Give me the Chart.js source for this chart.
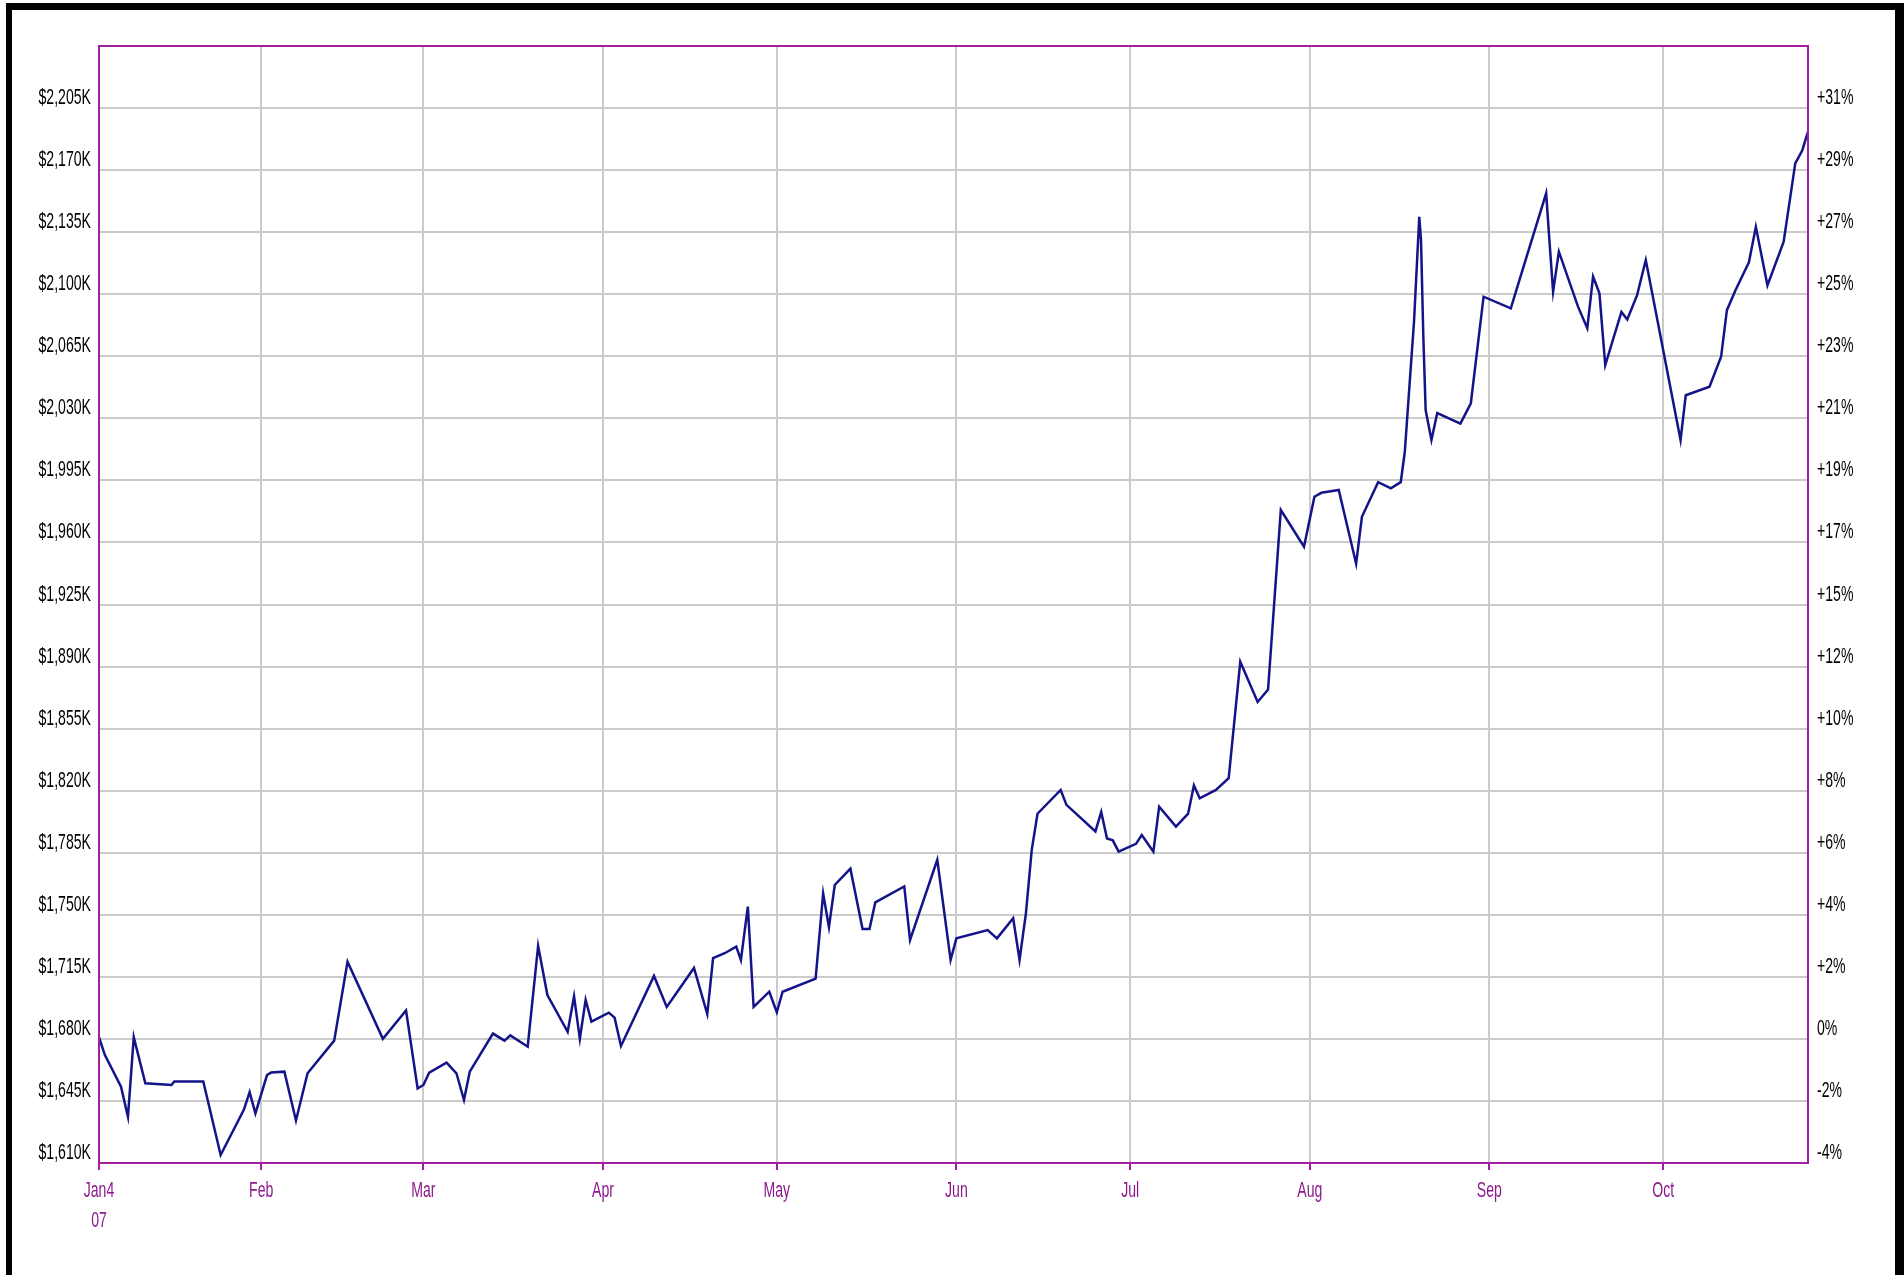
<!DOCTYPE html>
<html>
<head>
<meta charset="utf-8">
<title>Account value 2007</title>
<script src="https://cdn.jsdelivr.net/npm/chart.js@4.4.1/dist/chart.umd.min.js"></script>
<style>
  html, body { margin: 0; padding: 0; background: #fff; }
  #wrap { position: relative; width: 1904px; height: 1275px; }
</style>
</head>
<body>
<div id="wrap"><canvas id="chart"></canvas></div>
<script>
// x = calendar days after Jan 4 2007, y = account value in $K
const days = [
  0, 1, 3.8, 5, 6, 8, 12.5, 13, 18, 21, 25, 26, 27, 29, 29.7, 32, 34, 36, 40.6, 42.9,
  49, 53, 55, 56, 57, 60, 61.7, 63, 64, 68, 70, 71, 74, 75.8, 77.4, 80.9, 82, 83, 84, 85,
  88, 89, 90.1, 95.8, 98, 102.7, 105, 106, 108, 110, 110.8, 112, 113, 115.7, 117, 118, 123.7, 125, 126, 127,
  129.7, 131.8, 133, 134, 139, 140, 144.7, 147, 148, 153.4, 155, 157.8, 158.9, 160, 161, 162, 166, 167, 172, 173,
  174, 175, 176, 179, 180, 182, 183, 185.9, 188, 189, 190, 192.8, 195, 197, 200, 201.8, 204, 208, 209.8, 211,
  214, 217, 218, 220.8, 223, 224.7, 225.4, 227, 227.9, 228.2, 228.6, 229, 230, 231, 235, 236.8, 239, 243.7, 245, 249.8,
  250.4, 251, 252, 255.3, 256.9, 257.9, 259, 260, 262.8, 263.8, 265.5, 267, 273, 273.9, 278, 280, 281, 282.5, 284.8, 286,
  288, 290.8, 292.8, 294, 295
];
const values = [
  1681, 1671, 1653, 1636, 1681, 1655, 1654, 1656, 1656, 1614.5, 1640, 1650, 1638, 1659.6, 1661, 1661.5, 1634, 1660.6, 1679, 1723.5,
  1680, 1696, 1652, 1654, 1661, 1666.6, 1660.6, 1645.5, 1661.5, 1683, 1679, 1682, 1675.6, 1732.4, 1704.7, 1684, 1704, 1680, 1702, 1689.7,
  1694.8, 1692, 1676, 1715.5, 1698, 1720, 1694, 1725.5, 1728.3, 1732, 1724.5, 1754.6, 1698, 1706.6, 1695, 1706.6, 1714, 1762, 1743, 1766.8,
  1776, 1742, 1742, 1757, 1766, 1735.8, 1781, 1724.5, 1736.7, 1741.4, 1736.7, 1748, 1724.5, 1750.8, 1786.5, 1807, 1820.4, 1812, 1797, 1808,
  1793, 1792, 1785.6, 1790, 1795, 1785.6, 1811, 1799.7, 1807, 1823, 1815.7, 1820.4, 1827, 1892.7, 1870, 1877, 1978.3, 1957.6, 1985.8, 1988,
  1989.6, 1948, 1974.5, 1994, 1990.5, 1994, 2011, 2085, 2143.6, 2130.6, 2076, 2034.7, 2017.8, 2033, 2027, 2038.5, 2098.6, 2092, 2106, 2156.9,
  2128.7, 2101.5, 2124, 2093, 2080.8, 2110, 2100.5, 2060, 2090, 2085.8, 2099.5, 2119.3, 2017.8, 2043, 2047.8, 2064.7, 2091, 2102.4, 2118, 2138,
  2105, 2129.6, 2173.8, 2181, 2191.7
];

const monthDays = [0, 28, 56, 87, 117, 148, 178, 209, 240, 270];
const monthLabels = [['Jan4', '07'], 'Feb', 'Mar', 'Apr', 'May', 'Jun', 'Jul', 'Aug', 'Sep', 'Oct'];

const dollarTicks = [1610, 1645, 1680, 1715, 1750, 1785, 1820, 1855, 1890, 1925, 1960, 1995, 2030, 2065, 2100, 2135, 2170, 2205];
const dollarLabels = ['$1,610K', '$1,645K', '$1,680K', '$1,715K', '$1,750K', '$1,785K', '$1,820K', '$1,855K', '$1,890K',
  '$1,925K', '$1,960K', '$1,995K', '$2,030K', '$2,065K', '$2,100K', '$2,135K', '$2,170K', '$2,205K'];
const pctLabels = ['-4%', '-2%', '0%', '+2%', '+4%', '+6%', '+8%', '+10%', '+12%',
  '+15%', '+17%', '+19%', '+21%', '+23%', '+25%', '+27%', '+29%', '+31%'];

const PURPLE = '#a020a0';
const GRID = '#cbcbcb';
const LABEL_FONT = '16px "Liberation Sans", Arial, sans-serif';

// tall, narrow axis text like the old screen font
function tallText(ctx, text, x, y, align) {
  ctx.save();
  ctx.translate(x, y);
  ctx.scale(0.88, 1.4);
  ctx.textAlign = align;
  ctx.textBaseline = 'alphabetic';
  ctx.fillText(text, 0, 0);
  ctx.restore();
}

function tickText(scale, i, fallback) {
  const t = scale.ticks[i];
  return t && t.label !== undefined && t.label !== '' ? t.label : fallback[i];
}

// black page frame (no bottom edge), purple box round the plot, axis labels
const framePlugin = {
  id: 'frames',
  beforeDraw(chart) {
    const ctx = chart.ctx;
    ctx.save();
    ctx.fillStyle = '#000';
    ctx.fillRect(6, 3, 6, 1272);
    ctx.fillRect(6, 3, 1898, 7);
    ctx.fillRect(1895, 3, 9, 1272);
    ctx.restore();
  },
  afterDatasetsDraw(chart) {
    const a = chart.chartArea;
    const ctx = chart.ctx;
    ctx.save();
    ctx.strokeStyle = PURPLE;
    ctx.lineWidth = 2;
    ctx.strokeRect(a.left, a.top, a.right - a.left, a.bottom - a.top);
    ctx.restore();
  },
  afterDraw(chart) {
    const a = chart.chartArea;
    const ctx = chart.ctx;
    const sx = chart.scales.x, sy = chart.scales.y, sy2 = chart.scales.y2;
    ctx.save();
    ctx.font = LABEL_FONT;
    ctx.fillStyle = '#000';
    sy.ticks.forEach((t, i) => {
      const py = sy.getPixelForTick(i) - 4;
      tallText(ctx, tickText(sy, i, dollarLabels), a.left - 8, py, 'right');
    });
    sy2.ticks.forEach((t, i) => {
      const py = sy2.getPixelForTick(i) - 4;
      tallText(ctx, tickText(sy2, i, pctLabels), a.right + 9, py, 'left');
    });
    ctx.fillStyle = '#8b1a8b';
    sx.ticks.forEach((t, i) => {
      const px = sx.getPixelForTick(i);
      const lab = tickText(sx, i, monthLabels);
      const lines = Array.isArray(lab) ? lab : [lab];
      lines.forEach((s, j) => tallText(ctx, s, px, a.bottom + 34 + j * 30, 'center'));
    });
    ctx.restore();
  }
};

new Chart(document.getElementById('chart'), {
  type: 'line',
  data: {
    datasets: [{
      data: days.map((d, i) => ({ x: d, y: values[i] })),
      borderColor: '#14148a',
      borderWidth: 2.5,
      pointRadius: 0,
      tension: 0,
      fill: false
    }]
  },
  options: {
    responsive: true,
    maintainAspectRatio: false,
    animation: false,
    layout: { padding: { top: 46, left: 0, right: 0, bottom: 0 } },
    plugins: { legend: { display: false }, tooltip: { enabled: false } },
    scales: {
      x: {
        type: 'linear',
        min: 0,
        max: 295,
        afterBuildTicks: s => { s.ticks = monthDays.map(v => ({ value: v })); },
        afterFit: s => { s.height = 112; },
        grid: { color: GRID, lineWidth: 2, drawTicks: true, tickLength: 7, tickColor: PURPLE, tickWidth: 2 },
        border: { display: false },
        ticks: { display: false, autoSkip: false, callback: (v, i) => monthLabels[i] }
      },
      y: {
        position: 'left',
        min: 1610,
        max: 2240,
        afterBuildTicks: s => { s.ticks = dollarTicks.map(v => ({ value: v })); },
        afterFit: s => { s.width = 99; },
        grid: { color: GRID, lineWidth: 2, drawTicks: false },
        border: { display: false },
        ticks: { display: false, autoSkip: false, callback: (v, i) => dollarLabels[i] }
      },
      y2: {
        position: 'right',
        min: 1610,
        max: 2240,
        afterBuildTicks: s => { s.ticks = dollarTicks.map(v => ({ value: v })); },
        afterFit: s => { s.width = 96; },
        grid: { display: false, drawTicks: false },
        border: { display: false },
        ticks: { display: false, autoSkip: false, callback: (v, i) => pctLabels[i] }
      }
    }
  },
  plugins: [framePlugin]
});
</script>
</body>
</html>
